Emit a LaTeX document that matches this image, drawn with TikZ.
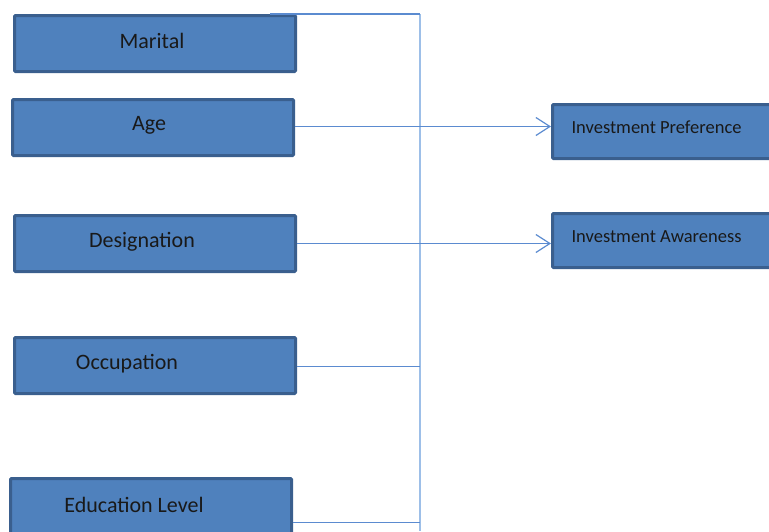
\documentclass[tikz,border=0pt]{standalone}
\usepackage{fontspec}
\setmainfont{Carlito}
\usetikzlibrary{arrows.meta}
\definecolor{boxfill}{HTML}{4F81BD}
\definecolor{boxline}{HTML}{3A5F8E}
\definecolor{linkline}{HTML}{5B8BD0}
\definecolor{busline}{HTML}{9DBFE8}

\begin{document}
\begin{tikzpicture}[x=1pt,y=-1pt,
  factor/.style={draw=boxline,fill=boxfill,line width=3pt,rounded corners=1pt,
    minimum width=281pt,minimum height=56pt,inner sep=0pt,anchor=north west},
  outcome/.style={factor,minimum width=240pt,minimum height=54pt},
  lbl/.style={font=\fontsize{22}{26}\selectfont,text=black!90},
  olbl/.style={font=\fontsize{18.5}{22}\selectfont,text=black!90,anchor=west},
  link/.style={linkline,line width=1.2pt},
  bus/.style={busline,line width=2.4pt}]
  \useasboundingbox (0,0) rectangle (769,531);
  \clip (0,0) rectangle (769,531);

  % left factors
  \node[factor,label={[lbl,xshift=-3pt,yshift=3pt]center:Marital}] (marital) at (13,14) {};
  \node[factor,label={[lbl,xshift=-4pt,yshift=2pt]center:Age}] (age) at (11,98) {};
  \node[factor,label={[lbl,xshift=-13pt,yshift=2pt]center:Designation}] (desig) at (13,214) {};
  \node[factor,label={[lbl,xshift=-28pt,yshift=2pt]center:Occupation}] (occup) at (13,336) {};
  \node[factor,minimum height=60pt,label={[lbl,xshift=-17pt,yshift=4pt]center:Education Level}] (educ) at (9,477) {};

  % outcomes
  \node[outcome,label={[olbl,xshift=17pt,yshift=4pt]west:Investment Preference}] (pref) at (551,103) {};
  \node[outcome,label={[olbl,xshift=17pt,yshift=4pt]west:Investment Awareness}] (aware) at (551,212) {};

  % bus line
  \coordinate (bustop) at (420,14);
  \coordinate (busbot) at (420,531);
  \draw[bus] (bustop) -- (busbot);

  % connectors
  \draw[link] ([xshift=-27pt]marital.north east) -- (bustop);
  \draw[link,-{Straight Barb[length=14pt,width=18pt]}] ([yshift=1pt]age.east) -- ([yshift=1pt]age.east -| pref.west);
  \draw[link,-{Straight Barb[length=14pt,width=18pt]}] (desig.east) -- (desig.east -| aware.west);
  \draw[link] ([yshift=-1pt]occup.east) -- ([yshift=-1pt]occup.east -| bustop);
  \draw[link] ([yshift=-14pt]educ.east) -- ([yshift=-14pt]educ.east -| bustop);
\end{tikzpicture}
\end{document}
